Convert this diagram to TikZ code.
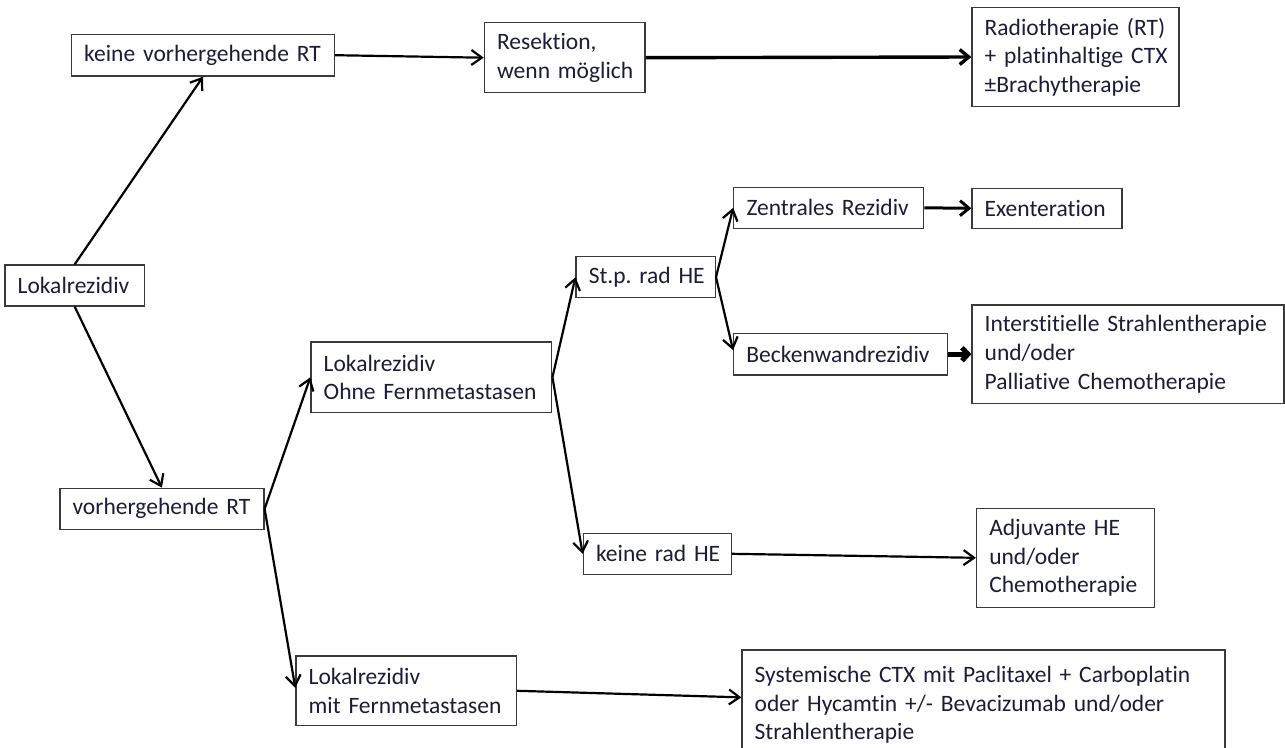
\documentclass[tikz,border=0pt]{standalone}
\usepackage{fontspec}
\setmainfont{Carlito}[Ligatures={NoCommon,NoRequired}]
\frenchspacing
\usetikzlibrary{arrows.meta}
\definecolor{boxc}{HTML}{3A3A3A}
\definecolor{txt}{HTML}{1C1C38}
\begin{document}
\begin{tikzpicture}[x=1pt,y=-1pt,
  box/.style={draw=boxc, line width=1.3pt, rectangle, inner xsep=12.7pt, inner ysep=0pt,
    align=left, text=txt, font=\fontsize{23.5}{28.7}\selectfont\frenchspacing},
  arr/.style={draw=black, line width=2.2pt, -{Straight Barb[length=10.5pt,width=15pt]}},
  arrmid/.style={draw=black, line width=3pt, -{Straight Barb[length=9pt,width=15pt]}},
  arrthick/.style={draw=black, line width=3.4pt, -{Straight Barb[length=9pt,width=15pt]}},
  arrheavy/.style={draw=black, line width=5pt, -{Straight Barb[length=6pt,width=13pt]}}]
\useasboundingbox (0,0) rectangle (1285,747);
\clip (0,0) rectangle (1285,747);

\node[box, minimum width=139.4pt, minimum height=41pt, text width=114pt] (lok) at (74.7,285.5) {\mbox{Lokalrezidiv}};
\node[box, minimum width=263pt, minimum height=41.7pt, text width=237.6pt] (kvrt) at (203,55.2) {\mbox{keine vorhergehende RT}};
\node[box, minimum width=160.6pt, minimum height=70pt, text width=135.2pt] (res) at (564.7,57.7) {\mbox{Resektion,}\\\mbox{wenn möglich}};
\node[box, minimum width=207pt, minimum height=99.4pt, text width=181.6pt] (rad) at (1075.5,57) {\mbox{Radiotherapie (RT)}\\\mbox{+ platinhaltige CTX}\\\mbox{±Brachytherapie}};
\node[box, minimum width=190pt, minimum height=41pt, text width=164.6pt] (zen) at (828.8,207.8) {\mbox{Zentrales Rezidiv}};
\node[box, minimum width=150pt, minimum height=40pt, text width=124.6pt] (exe) at (1047,208.3) {\mbox{Exenteration}};
\node[box, minimum width=139.3pt, minimum height=41pt, text width=113.9pt] (stp) at (645.7,277.2) {\mbox{St.p. rad HE}};
\node[box, minimum width=213.5pt, minimum height=41.7pt, text width=188.1pt] (bwr) at (840.5,354.2) {\mbox{Beckenwandrezidiv}};
\node[box, minimum width=312pt, minimum height=98.3pt, text width=286.6pt] (ist) at (1128,354.2) {\mbox{Interstitielle Strahlentherapie}\\\mbox{und/oder}\\\mbox{Palliative Chemotherapie}};
\node[box, minimum width=240.8pt, minimum height=70.7pt, text width=215.4pt] (lof) at (431.4,377.3) {\mbox{Lokalrezidiv}\\\mbox{Ohne Fernmetastasen}};
\node[box, minimum width=204.1pt, minimum height=41pt, text width=178.7pt] (vrt) at (161.9,508.8) {\mbox{vorhergehende RT}};
\node[box, minimum width=148pt, minimum height=41pt, text width=122.6pt] (krh) at (657.3,553.8) {\mbox{keine rad HE}};
\node[box, minimum width=177.7pt, minimum height=99pt, text width=152.3pt] (adj) at (1065.4,557.8) {\mbox{Adjuvante HE}\\\mbox{und/oder}\\\mbox{Chemotherapie}};
\node[box, minimum width=220.5pt, minimum height=69.7pt, text width=195.1pt] (lmf) at (406.2,690.8) {\mbox{Lokalrezidiv}\\\mbox{mit Fernmetastasen}};
\node[box, minimum width=483pt, minimum height=110pt, text width=457.6pt] (sys) at (983.5,705) {\mbox{Systemische CTX mit Paclitaxel + Carboplatin}\\\mbox{oder Hycamtin +/- Bevacizumab und/oder}\\\mbox{Strahlentherapie}};

\draw[arr] (lok.north) -- (kvrt.south);
\draw[arr] (lok.south) -- (vrt.north);
\draw[arr] (kvrt.east) -- (res.west);
\draw[arrthick] (res.east) -- (rad.west);
\draw[arr] (vrt.east) -- (lof.west);
\draw[arr] (vrt.east) -- ([yshift=3pt]lmf.west);
\draw[arr] (lof.east) -- (stp.west);
\draw[arr] (lof.east) -- (krh.west);
\draw[arr] (stp.east) -- (zen.west);
\draw[arr] (stp.east) -- ([yshift=4pt]bwr.west);
\draw[arrmid] (zen.east) -- (exe.west);
\draw[arrheavy] (bwr.east) -- (ist.west);
\draw[arr] (krh.east) -- (adj.west);
\draw[arr] (lmf.east) -- ([yshift=-48pt]sys.north west);
\end{tikzpicture}
\end{document}
